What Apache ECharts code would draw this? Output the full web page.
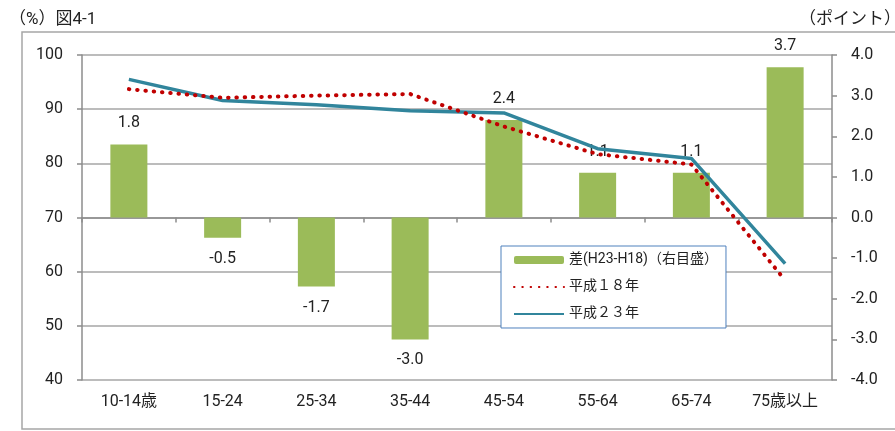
<!DOCTYPE html>
<html>
<head>
<meta charset="utf-8">
<script src="https://cdn.jsdelivr.net/npm/echarts@6/dist/echarts.min.js"></script>
<style>
html,body{margin:0;padding:0;background:#fff;}
#c{width:895px;height:431px;}
</style>
</head>
<body>
<div id="c"></div>
<script>
var categories = ['10-14歳', '15-24', '25-34', '35-44', '45-54', '55-64', '65-74', '75歳以上'];
var diffValues = [1.8, -0.5, -1.7, -3.0, 2.4, 1.1, 1.1, 3.7];
var h18Values = [93.7, 92.1, 92.5, 92.8, 86.8, 81.7, 79.8, 58.4];
var h23Values = [95.5, 91.6, 90.8, 89.7, 89.3, 82.7, 80.9, 61.5];
var leftTicks = {min: 40, max: 100, interval: 10};
var rightTicks = {min: -4, max: 4, interval: 1};
var seriesNames = ['差(H23-H18)（右目盛）', '平成１８年', '平成２３年'];

var FONT = 'Roboto, "Noto Sans CJK JP", sans-serif';
var chart = echarts.init(document.getElementById('c'));

var barData = diffValues.map(function (v) {
  return {
    value: v,
    label: {position: v < 0 ? 'bottom' : 'top'}
  };
});

chart.setOption({
  animation: false,
  textStyle: {fontFamily: FONT},
  title: [
    {text: '（%）図4-1', left: 4, top: 6, textStyle: {fontSize: 17, fontWeight: 'normal', color: '#222', fontFamily: FONT}},
    {text: '（ポイント）', right: -11, top: 6, textStyle: {fontSize: 17, fontWeight: 'normal', color: '#222', fontFamily: FONT}}
  ],
  graphic: [{
    type: 'rect',
    shape: {x: 22, y: 32, width: 900, height: 397},
    style: {fill: 'none', stroke: '#a6a6a6', lineWidth: 1.5},
    silent: true
  }],
  legend: {
    orient: 'vertical',
    left: 501, top: 246,
    padding: [7, 8, 7, 12],
    itemGap: 13,
    itemWidth: 50,
    itemHeight: 8,
    backgroundColor: '#fff',
    borderColor: '#4f81bd',
    borderWidth: 1,
    borderRadius: 0,
    textStyle: {fontSize: 14, color: '#222', fontFamily: FONT},
    data: [
      {name: seriesNames[0]},
      {name: seriesNames[1], itemStyle: {opacity: 0}},
      {name: seriesNames[2], itemStyle: {opacity: 0}}
    ]
  },
  grid: {left: 82, right: 63, top: 55, bottom: 51},
  xAxis: {
    type: 'category',
    data: categories,
    axisLine: {lineStyle: {color: '#8c8c8c', width: 1.5}},
    axisTick: {show: true, length: 5, lineStyle: {color: '#8c8c8c', width: 1.5}},
    axisLabel: {fontSize: 16, color: '#222', margin: 14, fontFamily: FONT},
    splitLine: {show: false}
  },
  yAxis: [{
    type: 'value',
    min: leftTicks.min, max: leftTicks.max, interval: leftTicks.interval,
    position: 'left',
    axisLine: {show: true, lineStyle: {color: '#8c8c8c', width: 1.5}},
    axisTick: {show: true, length: 5, lineStyle: {color: '#8c8c8c', width: 1.5}},
    axisLabel: {fontSize: 16, color: '#222', margin: 19, fontFamily: FONT},
    splitLine: {show: true, lineStyle: {color: '#a6a6a6', width: 1.5}}
  }, {
    type: 'value',
    min: rightTicks.min, max: rightTicks.max, interval: rightTicks.interval,
    position: 'right',
    axisLine: {show: true, lineStyle: {color: '#8c8c8c', width: 1.5}},
    axisTick: {show: true, length: 5, lineStyle: {color: '#8c8c8c', width: 1.5}},
    axisLabel: {fontSize: 16, color: '#222', margin: 19, fontFamily: FONT,
      formatter: function (v) { return v.toFixed(1); }},
    splitLine: {show: false}
  }],
  series: [{
    name: seriesNames[0],
    type: 'bar',
    yAxisIndex: 1,
    barWidth: 37,
    data: barData,
    itemStyle: {color: '#9bbb59'},
    label: {show: true, fontSize: 16, color: '#222', distance: 13, fontFamily: FONT,
      formatter: function (p) { return p.value.toFixed(1); }},
    z: 1
  }, {
    name: seriesNames[1],
    type: 'line',
    yAxisIndex: 0,
    data: h18Values,
    symbol: 'none',
    lineStyle: {color: '#c00000', width: 4, type: [0.5, 7.8], cap: 'round'},
    itemStyle: {color: '#c00000'},
    z: 4
  }, {
    name: seriesNames[2],
    type: 'line',
    yAxisIndex: 0,
    data: h23Values,
    symbol: 'none',
    lineStyle: {color: '#31859c', width: 3.5},
    itemStyle: {color: '#31859c'},
    z: 3
  }]
});
</script>
</body>
</html>
